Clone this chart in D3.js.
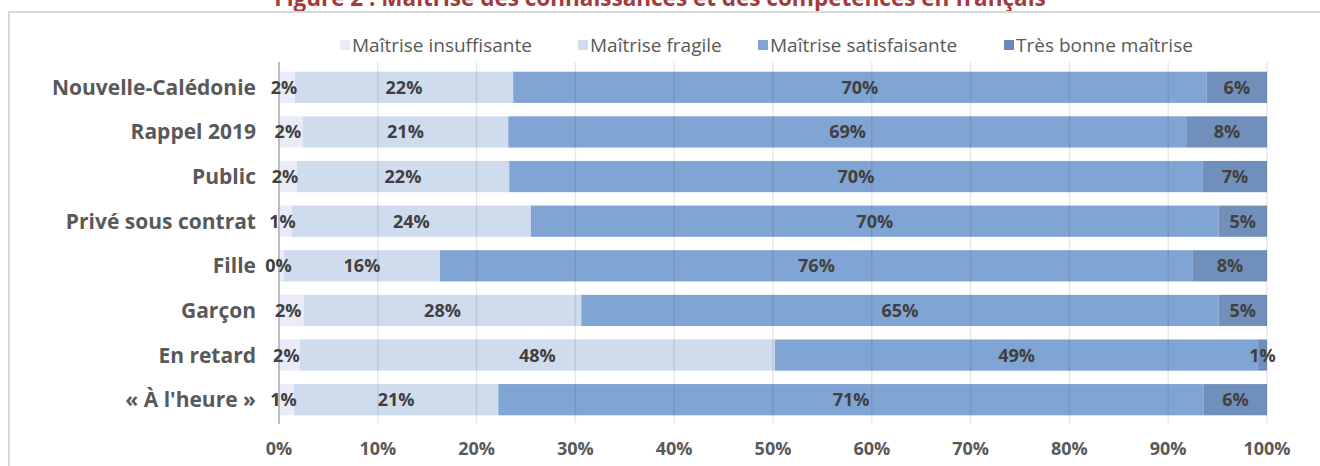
<!DOCTYPE html>
<html>
<head>
<meta charset="utf-8">
<script src="https://cdn.jsdelivr.net/npm/d3@7"></script>
<style>
  body { margin: 0; background: #fff; }
  svg { display: block; font-family: "Open Sans", sans-serif; }
</style>
</head>
<body>
<div id="chart"></div>
<script>
// Categories (top to bottom)
const categories = ['Nouvelle-Calédonie', 'Rappel 2019', 'Public', 'Privé sous contrat',
  'Fille', 'Garçon', 'En retard', '« À l\'heure »'];

const seriesNames = ['Maîtrise insuffisante', 'Maîtrise fragile', 'Maîtrise satisfaisante', 'Très bonne maîtrise'];

// Segment widths (percent)
const insuffisante = [1.6, 2.4, 1.8, 1.3, 0.5, 2.5, 2.1, 1.5];
const fragile      = [22.1, 20.8, 21.5, 24.2, 15.8, 28.1, 48.1, 20.7];
const satisfaisante = [70.2, 68.7, 70.2, 69.6, 76.2, 64.5, 48.9, 71.4];
const tresBonne    = [6.1, 8.1, 6.5, 4.9, 7.5, 4.9, 0.9, 6.4];

// Printed labels
const labInsuffisante = ['2%', '2%', '2%', '1%', '0%', '2%', '2%', '1%'];
const labFragile      = ['22%', '21%', '22%', '24%', '16%', '28%', '48%', '21%'];
const labSatisfaisante = ['70%', '69%', '70%', '70%', '76%', '65%', '49%', '71%'];
const labTresBonne    = ['6%', '8%', '7%', '5%', '8%', '5%', '1%', '6%'];

const xTicks = [0, 10, 20, 30, 40, 50, 60, 70, 80, 90, 100];

const colors = ['#e9ecf8', '#cfdcee', '#80a5d4', '#7090bb'];
const legendColors = ['#e9ecf8', '#cfdcee', '#80a5d4', '#6b88b8'];

const W = 1320, H = 466;
const svg = d3.select('#chart').append('svg').attr('width', W).attr('height', H);

// Frame and title (clipped by the top edge, as in the source)
svg.append('text')
  .attr('x', 660).attr('y', 6)
  .attr('text-anchor', 'middle')
  .style('font-size', '22.5px').style('font-weight', 700)
  .attr('fill', '#a23b3b')
  .text('Figure 2 : Maîtrise des connaissances et des compétences en français');
svg.append('path')
  .attr('d', `M9,${H} L9,12 L${W},12`)
  .attr('fill', 'none').attr('stroke', '#d9d9d9').attr('stroke-width', 2);

const x = d3.scaleLinear().domain([0, 100]).range([279, 1267]);
const y = d3.scaleBand().domain(categories).range([65, 422]).paddingInner(0.3).paddingOuter(0.15);

const series = [insuffisante, fragile, satisfaisante, tresBonne];
const labels = [labInsuffisante, labFragile, labSatisfaisante, labTresBonne];

const rows = categories.map((c, i) => {
  let acc = 0;
  return series.map((s, k) => {
    const seg = { cat: c, k, x0: acc, x1: acc + s[i], label: labels[k][i] };
    acc += s[i];
    return seg;
  });
}).flat();

// Bars
svg.append('g').selectAll('rect').data(rows).join('rect')
  .attr('x', d => x(d.x0))
  .attr('width', d => x(d.x1) - x(d.x0))
  .attr('y', d => y(d.cat))
  .attr('height', y.bandwidth())
  .attr('fill', d => colors[d.k]);

// Gridlines drawn over bars, faint
svg.append('g').selectAll('line').data(xTicks.slice(1)).join('line')
  .attr('x1', d => x(d)).attr('x2', d => x(d))
  .attr('y1', 62).attr('y2', 423)
  .attr('stroke', '#000').attr('stroke-opacity', 0.09).attr('stroke-width', 1.5);

// Zero axis line
svg.append('line')
  .attr('x1', x(0)).attr('x2', x(0)).attr('y1', 62).attr('y2', 424)
  .attr('stroke', '#bdbdbd').attr('stroke-width', 2);

// Data labels
svg.append('g').selectAll('text').data(rows).join('text')
  .attr('x', d => x((d.x0 + d.x1) / 2) + (d.k === 0 ? -3 : 0))
  .attr('y', d => y(d.cat) + y.bandwidth() / 2)
  .attr('dy', '0.36em')
  .attr('text-anchor', 'middle')
  .style('font-size', '18px').style('font-weight', 700)
  .attr('fill', '#404040')
  .text(d => d.label);

// Category labels
svg.append('g').selectAll('text').data(categories).join('text')
  .attr('x', 256)
  .attr('y', d => y(d) + y.bandwidth() / 2)
  .attr('dy', '0.36em')
  .attr('text-anchor', 'end')
  .style('font-size', '21px').style('font-weight', 700)
  .attr('fill', '#595959')
  .text(d => d);

// X tick labels
svg.append('g').selectAll('text').data(xTicks).join('text')
  .attr('x', d => x(d))
  .attr('y', 455)
  .attr('text-anchor', 'middle')
  .style('font-size', '18px').style('font-weight', 700)
  .attr('fill', '#595959')
  .text(d => d + '%');

// Legend
const legendX = [340, 578, 758, 1004];
const lg = svg.append('g').selectAll('g').data(seriesNames).join('g')
  .attr('transform', (d, i) => `translate(${legendX[i]},45)`);
lg.append('rect').attr('x', 0).attr('y', -5).attr('width', 10).attr('height', 10)
  .attr('fill', (d, i) => legendColors[i]);
lg.append('text').attr('x', 12).attr('dy', '0.36em')
  .style('font-size', '19px').attr('fill', '#595959')
  .text(d => d);
</script>
</body>
</html>
